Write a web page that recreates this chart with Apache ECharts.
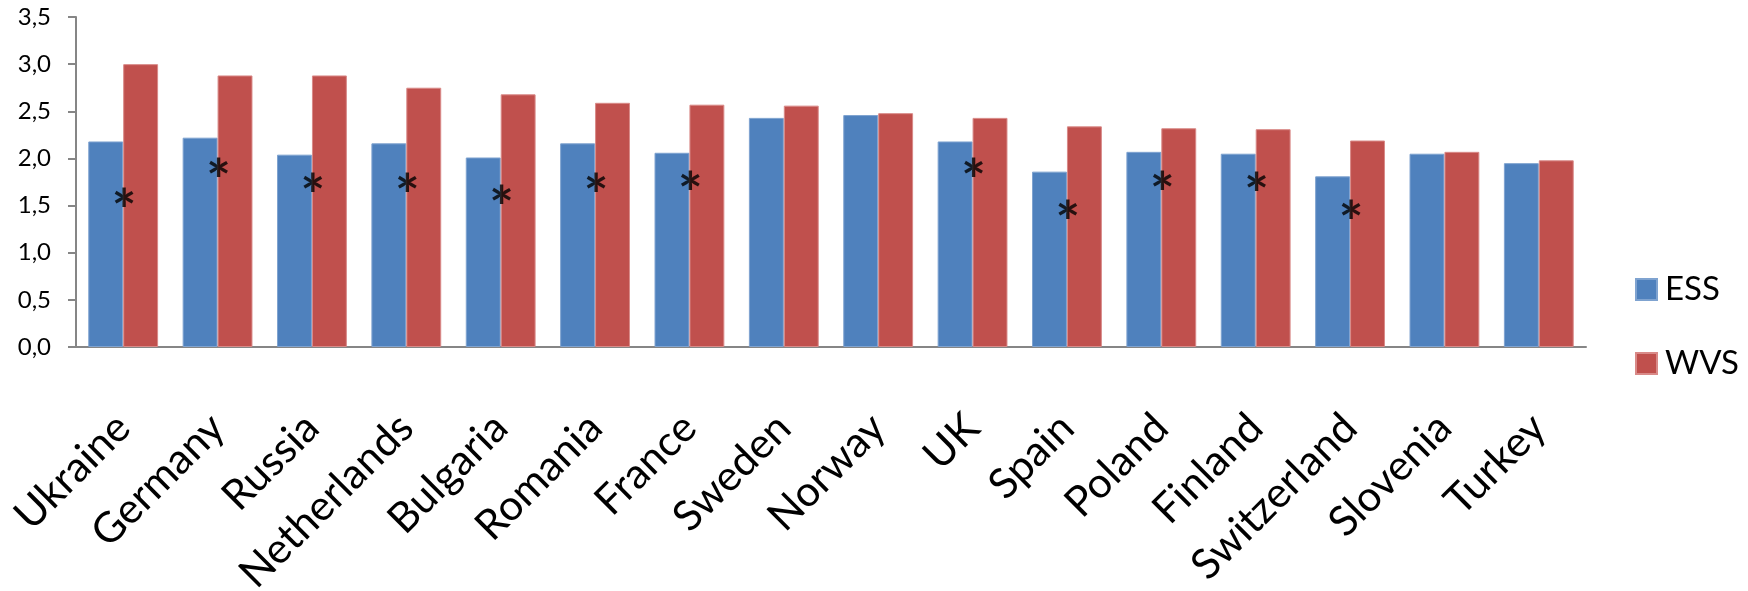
<!DOCTYPE html>
<html>
<head>
<meta charset="utf-8">
<script src="https://cdn.jsdelivr.net/npm/echarts@6/dist/echarts.min.js"></script>
<style>
  html, body { margin: 0; padding: 0; background: #fff; }
  #chart { width: 1748px; height: 591px; }
</style>
</head>
<body>
<div id="chart"></div>
<script>
// countries in the order shown
const countries = ['Ukraine', 'Germany', 'Russia', 'Netherlands', 'Bulgaria', 'Romania', 'France', 'Sweden',
  'Norway', 'UK', 'Spain', 'Poland', 'Finland', 'Switzerland', 'Slovenia', 'Turkey']
const essValues = [2.18, 2.22, 2.04, 2.16, 2.01, 2.16, 2.06, 2.43, 2.46, 2.18, 1.86, 2.07, 2.05, 1.81, 2.05, 1.95]
const wvsValues = [3.00, 2.88, 2.88, 2.75, 2.68, 2.59, 2.57, 2.56, 2.48, 2.43, 2.34, 2.32, 2.31, 2.19, 2.07, 1.98]
// height of the significance asterisk per country (null = none)
const starHeights = [1.57, 1.89, 1.73, 1.73, 1.60, 1.73, 1.75, null, null, 1.89, 1.44, 1.75, 1.74, 1.44, null, null]
const yMin = 0
const yMax = 3.5
const yStep = 0.5

const font = 'Lato, "Open Sans", sans-serif'
const axisGray = '#868686'

const chart = echarts.init(document.getElementById('chart'))
chart.setOption({
  animation: false,
  textStyle: { fontFamily: font },
  grid: { left: 76, right: 162, top: 17, bottom: 244, containLabel: false, outerBoundsMode: 'none' },
  legend: {
    data: ['ESS', 'WVS'],
    orient: 'vertical',
    left: 1630,
    top: 268,
    itemWidth: 21,
    itemHeight: 21,
    itemGap: 41,
    icon: 'rect',
    textStyle: { fontSize: 33, color: '#000', lineHeight: 21, padding: [0, 0, 0, 3] }
  },
  xAxis: {
    type: 'category',
    data: countries,
    axisLine: { lineStyle: { color: axisGray, width: 2 } },
    axisTick: { length: 15, lineStyle: { color: axisGray, width: 2 } },
    axisLabel: {
      rotate: 45,
      interval: 0,
      margin: 74,
      fontSize: 42,
      color: '#000',
      fontFamily: font
    }
  },
  yAxis: {
    type: 'value',
    min: yMin,
    max: yMax,
    interval: yStep,
    splitLine: { show: false },
    axisLine: { show: true, lineStyle: { color: axisGray, width: 2 } },
    axisTick: { show: true, length: 8, lineStyle: { color: axisGray, width: 2 } },
    axisLabel: {
      fontSize: 24,
      color: '#000',
      margin: 25,
      formatter: (v) => v.toFixed(1).replace('.', ',')
    }
  },
  series: [{
    name: 'ESS',
    type: 'bar',
    data: essValues,
    barGap: '0%',
    barCategoryGap: '26%',
    itemStyle: { color: '#4F81BD', borderColor: '#7FA3D0', borderWidth: 1 }
  }, {
    name: 'WVS',
    type: 'bar',
    data: wvsValues,
    itemStyle: { color: '#C0504D', borderColor: '#D98A88', borderWidth: 1 }
  }, {
    name: 'stars',
    type: 'scatter',
    data: starHeights.map(v => v == null ? '-' : v),
    symbolSize: 1,
    itemStyle: { color: 'rgba(0,0,0,0)' },
    z: 5,
    label: {
      show: true,
      position: 'inside',
      formatter: '*',
      fontSize: 58,
      fontWeight: 'bold',
      color: '#000',
      offset: [1, 13]
    }
  }]
})
</script>
</body>
</html>
